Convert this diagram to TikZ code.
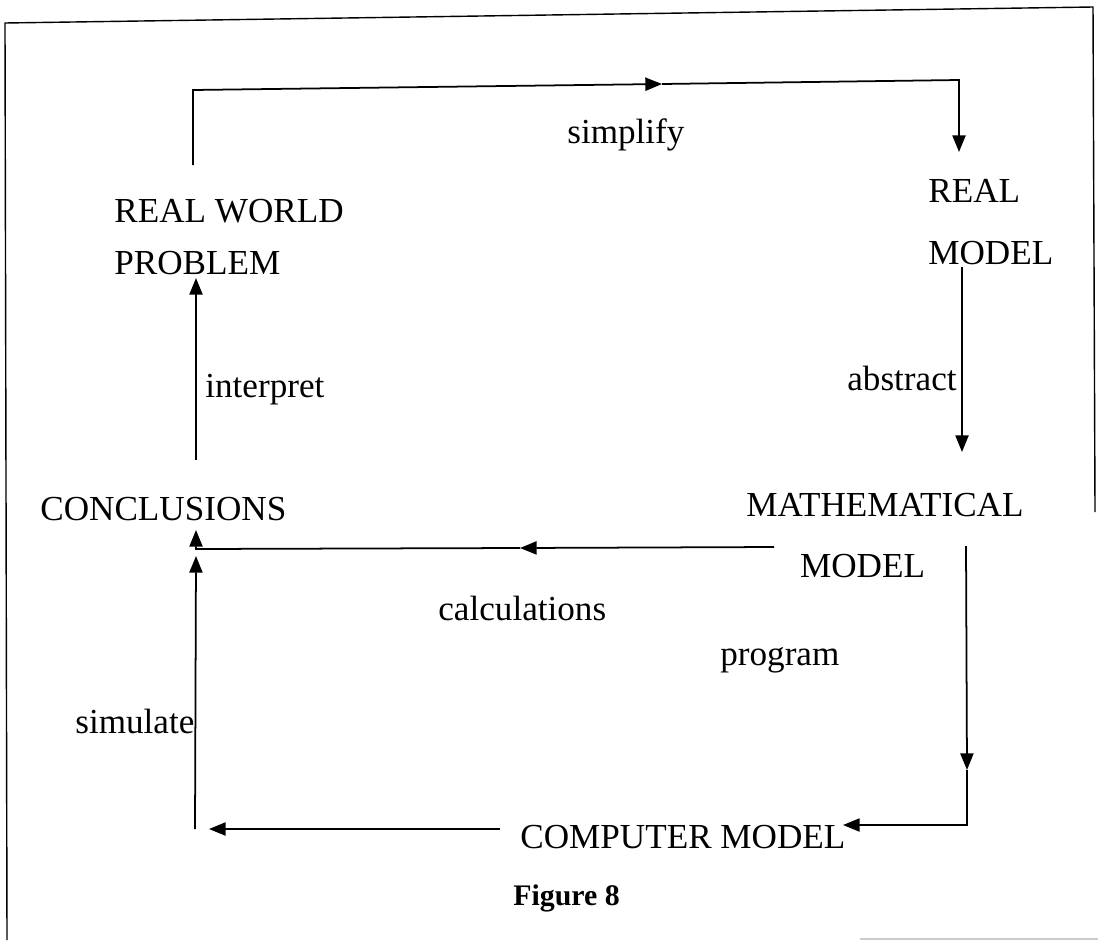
\documentclass[tikz,border=0pt]{standalone}
\usepackage{fontspec}
\setmainfont{Liberation Serif}
\usetikzlibrary{arrows.meta}

\tikzset{
  stage/.style={font=\fontsize{20}{24}\selectfont, inner sep=0pt, anchor=base west, align=left},
  verb/.style={font=\fontsize{20}{24}\selectfont, inner sep=0pt, anchor=base west},
  wire/.style={line width=1pt},
  flow/.style={wire, -{Triangle[length=9.5pt,width=7.5pt]}},
}

\begin{document}
\begin{tikzpicture}[x=0.02cm, y=-0.02cm]
    \useasboundingbox (0,0) rectangle (1098,940);
    % Frame
    \draw[line width=0.8pt] (7,940) -- (5,23) -- (1093,7) -- (1095,512);
    \draw[gray!40, line width=0.6pt] (860,939) -- (1098,939);
    % Stages (base = last line)
    \node[stage] (rwp) at (114,274) {REAL WORLD\\[5.5pt]PROBLEM};
    \node[stage] (rm) at (928,264) {REAL\\[11pt]MODEL};
    \node[stage] (mm) at (746,577) {MATHEMATICAL\\[10.6pt]\hspace*{30.6pt}MODEL};
    \node[stage] (cm) at (520,848) {COMPUTER MODEL};
    \node[stage] (concl) at (40,520) {CONCLUSIONS};
    % Verbs
    \node[verb] (simplify) at (567,143) {simplify};
    \node[verb] (abstract) at (847,390) {abstract};
    \node[verb] (program) at (720,665) {program};
    \node[verb] (calc) at (438,620) {calculations};
    \node[verb] (simulate) at (75,733) {simulate};
    \node[verb] (interpret) at (205,397) {interpret};
    \node[font=\fontsize{17}{20}\selectfont\bfseries, inner sep=0pt, anchor=base west] (fig) at (513,905) {Figure 8};
    % Corners and ends
    \coordinate (rwpTop) at (193,165);
    \coordinate (tl) at (193,90);
    \coordinate (tmid) at (662,84);
    \coordinate (tr) at (959,80);
    \coordinate (rmIn) at (959,152);
    \coordinate (rmOut) at (962,267);
    \coordinate (mmIn) at (962,452);
    \coordinate (mmLeft) at (774,547);
    \coordinate (cmid) at (520,548);
    \coordinate (cl) at (196,549);
    \coordinate (conclIn) at (196,530);
    \coordinate (mmDown) at (966,546);
    \coordinate (pmid) at (967,770);
    \coordinate (br) at (967,825);
    \coordinate (cmIn) at (843,825);
    \coordinate (cmOut) at (500,829);
    \coordinate (bl) at (209,829);
    \coordinate (simBot) at (195,829);
    \coordinate (simTop) at (196,556);
    \coordinate (intBot) at (196,460);
    \coordinate (rwpIn) at (196,278);
    % simplify
    \draw[flow] (rwpTop) -- (tl) -- (tmid);
    \draw[flow] (tmid) -- (tr) -- (rmIn);
    % abstract
    \draw[flow] (rmOut) -- (mmIn);
    % calculations
    \draw[flow] (mmLeft) -- (cmid);
    \draw[flow] (cmid) -- (cl) -- (conclIn);
    % program
    \draw[flow] (mmDown) -- (pmid);
    \draw[flow] (pmid) -- (br) -- (cmIn);
    % simulate
    \draw[flow] (cmOut) -- (bl);
    \draw[flow] (simBot) -- (simTop);
    % interpret
    \draw[flow] (intBot) -- (rwpIn);
\end{tikzpicture}
\end{document}
